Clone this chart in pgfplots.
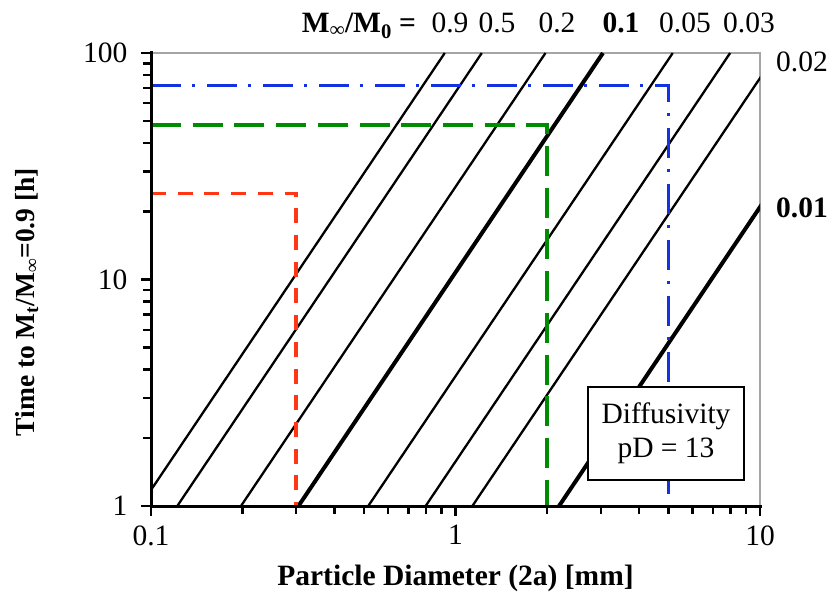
\documentclass[border=0pt]{standalone}
\usepackage{pgfplots}
\pgfplotsset{compat=1.18}
\usepackage{fontspec}
\setmainfont{Liberation Serif}
\definecolor{myred}{RGB}{255,55,20}
\definecolor{mygreen}{RGB}{0,140,0}
\definecolor{myblue}{RGB}{20,50,225}
\definecolor{framegray}{RGB}{165,165,165}
\newcommand{\fs}{\fontsize{29.5bp}{34bp}\selectfont}
\begin{document}
\begin{tikzpicture}
\begin{axis}[
 name=ax,
 at={(151bp,92bp)}, anchor=south west,
 scale only axis, width=609bp, height=453bp,
 xmode=log, ymode=log,
 xmin=0.1, xmax=10, ymin=1, ymax=100,
 xtick={0.1,1,10}, xticklabels={0.1,1,10},
 ytick={1,10,100}, yticklabels={1,10,100},
 minor xtick={0.2,0.3,0.4,0.5,0.6,0.7,0.8,0.9,2,3,4,5,6,7,8,9},
 minor ytick={2,3,4,5,6,7,8,9,20,30,40,50,60,70,80,90},
 xtick pos=left, ytick pos=left,
 tick align=outside,
 major tick length=10bp, minor tick length=8bp,
 every tick/.style={black, line width=2.4bp},
 axis line style={framegray, line width=1.6bp},
 /pgf/number format/assume math mode=true,
 tick label style={font=\fs},
 xticklabel style={yshift=-6bp},
 yticklabel style={anchor=east, xshift=-10bp},
 xlabel={\textbf{Particle Diameter (2a) [mm]}},
 ylabel={\textbf{Time to M\textsubscript{t}/M\textsubscript{∞}=0.9 [h]}},
 every axis x label/.style={at={(axis description cs:0.5,-0.159)}, anchor=center, font=\fs},
 every axis y label/.style={at={(axis description cs:-0.204,0.45)}, anchor=center, rotate=90, font=\fontsize{27.5bp}{32bp}\selectfont},
]
\addplot[black, line width=2.3bp] coordinates {(0.0922,1) (0.922,100)};
\addplot[black, line width=2.3bp] coordinates {(0.122,1) (1.22,100)};
\addplot[black, line width=2.3bp] coordinates {(0.1975,1) (1.975,100)};
\addplot[black, line width=4bp] coordinates {(0.305,1) (3.05,100)};
\addplot[black, line width=2.3bp] coordinates {(0.517,1) (5.17,100)};
\addplot[black, line width=2.3bp] coordinates {(0.798,1) (7.98,100)};
\addplot[black, line width=2.3bp] coordinates {(1.136,1) (11.36,100)};
\addplot[black, line width=4bp] coordinates {(2.188,1) (21.88,100)};
\addplot[myred, line width=3.6bp, dash pattern=on 15bp off 11.7bp] coordinates {(0.1,24) (0.3,24) (0.3,1)};
\addplot[mygreen, line width=3.6bp, dash pattern=on 30bp off 11.7bp] coordinates {(0.1,48) (2,48) (2,1)};
\addplot[myblue, line width=3.6bp, dash pattern=on 30bp off 11bp on 3bp off 12bp] coordinates {(0.1,72) (5,72) (5,1)};
\end{axis}
\draw[black, line width=3bp, line cap=rect] (ax.north west) -- (ax.south west) -- (ax.south east);
\begin{scope}[x=1bp, y=-1bp, shift={(0bp,598bp)}]
\node[draw=black, line width=1.8bp, fill=white, minimum width=156bp, minimum height=93bp, align=center, font=\fs, inner sep=0pt] at (666,433.5) {Diffusivity\\pD = 13};
\node[anchor=base, font=\fs] at (359,33) {\textbf{M\textsubscript{∞}/M\textsubscript{0} =}};
\node[anchor=base, font=\fs] at (450,33) {0.9};
\node[anchor=base, font=\fs] at (497,33) {0.5};
\node[anchor=base, font=\fs] at (557,33) {0.2};
\node[anchor=base, font=\fs] at (621,33) {\textbf{0.1}};
\node[anchor=base, font=\fs] at (685,33) {0.05};
\node[anchor=base, font=\fs] at (749,33) {0.03};
\node[anchor=base west, font=\fs, inner sep=0pt] at (776,72) {0.02};
\node[anchor=base west, font=\fs, inner sep=0pt] at (776,218) {\textbf{0.01}};
\pgfresetboundingbox
\path (0,0) rectangle (835,598);
\end{scope}
\end{tikzpicture}
\end{document}
